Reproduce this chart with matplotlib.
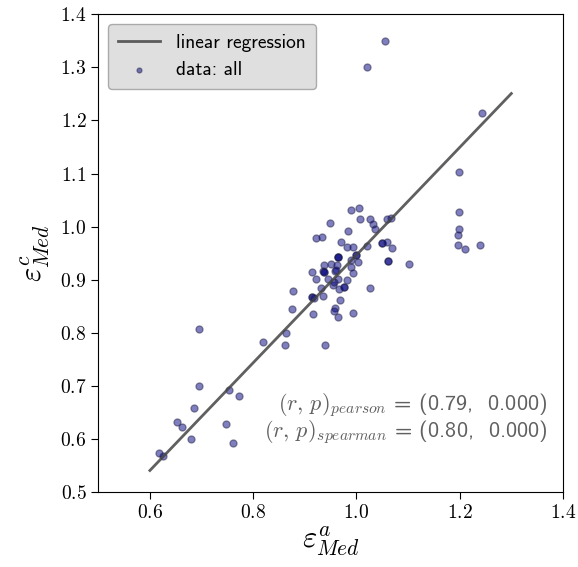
import numpy as np
import matplotlib
matplotlib.use("Agg")
import matplotlib.pyplot as plt
from matplotlib.ticker import FormatStrFormatter

plt.rcParams['mathtext.fontset'] = 'cm'
plt.rcParams['font.family'] = ['cmss10', 'DejaVu Sans']
plt.rcParams['axes.unicode_minus'] = False

# median epsilon, method a (x) vs method c (y)
eps_a = [1.056, 1.020, 1.244, 1.198, 1.198, 1.198, 1.196, 1.196, 1.211, 1.240,
         1.060, 1.066, 1.049, 1.049, 1.059, 1.069, 1.061, 1.061, 1.101,
         0.990, 1.005, 0.949, 1.007, 1.027, 1.032, 1.036, 0.983, 0.922, 0.934,
         0.971, 0.982, 0.993, 1.021, 0.964, 0.964, 0.964, 1.000, 1.000, 0.990,
         1.003, 0.938, 0.951, 0.913, 0.935, 0.938, 0.938, 0.958, 0.990, 0.993,
         0.921, 0.945, 0.964, 0.982, 0.878, 0.932, 0.954, 0.966, 0.975, 0.975,
         1.027, 0.913, 0.913, 0.917, 0.936, 0.969, 0.876, 0.915, 0.958, 0.956,
         0.964, 0.993, 0.940, 0.863, 0.861, 0.963, 0.960, 0.956,
         0.695, 0.819, 0.695, 0.754, 0.772, 0.685, 0.653, 0.663, 0.748, 0.680,
         0.761, 0.617, 0.625]
eps_c = [1.349, 1.300, 1.214, 1.102, 1.027, 0.995, 0.984, 0.965, 0.957, 0.965,
         1.014, 1.016, 0.969, 0.969, 0.971, 0.960, 0.935, 0.935, 0.929,
         1.031, 1.035, 1.007, 1.014, 1.014, 1.004, 0.996, 0.991, 0.979, 0.981,
         0.971, 0.962, 0.961, 0.964, 0.943, 0.943, 0.943, 0.946, 0.946, 0.937,
         0.934, 0.927, 0.930, 0.915, 0.916, 0.914, 0.914, 0.917, 0.924, 0.912,
         0.902, 0.902, 0.902, 0.899, 0.878, 0.885, 0.890, 0.882, 0.886, 0.886,
         0.885, 0.868, 0.868, 0.865, 0.869, 0.862, 0.844, 0.836, 0.847, 0.841,
         0.829, 0.838, 0.777, 0.800, 0.777, 0.927, 0.919, 0.896,
         0.808, 0.782, 0.700, 0.692, 0.681, 0.659, 0.632, 0.622, 0.629, 0.601,
         0.593, 0.573, 0.569]

# regression line as drawn
slope = 1.014
intercept = -0.0676
line_x = [0.6, 1.3]

pearson = (0.79, 0.000)
spearman = (0.80, 0.000)

fig = plt.figure(figsize=(5.78, 5.67), dpi=100)
ax = fig.add_axes([0.170, 0.132, 0.804, 0.843])

lx = np.array(line_x)
ax.plot(lx, slope * lx + intercept, color='#444444', lw=2, alpha=0.85,
        label='linear regression', zorder=3)
ax.scatter(eps_a, eps_c, s=26, c='navy', edgecolors='#222244', linewidths=0.9,
           alpha=0.5, label='data: all', zorder=2)

ax.set_xlim(0.5, 1.4)
ax.set_ylim(0.5, 1.4)
ax.set_xticks([0.6, 0.8, 1.0, 1.2, 1.4])
ax.set_yticks(np.arange(0.5, 1.41, 0.1))
ax.xaxis.set_major_formatter(FormatStrFormatter('$%.1f$'))
ax.yaxis.set_major_formatter(FormatStrFormatter('$%.1f$'))
ax.tick_params(labelsize=14, length=5, direction='out')

ax.set_xlabel(r'$\varepsilon^{a}_{Med}$', fontsize=22, labelpad=2)
ax.set_ylabel(r'$\varepsilon^{c}_{Med}$', fontsize=22, labelpad=6)

ax.text(1.37, 0.664, r'$(r,\,p)_{pearson}$' + ' = (%.2f,  %.3f)' % pearson,
        ha='right', va='center', fontsize=16, color='#606060')
ax.text(1.37, 0.613, r'$(r,\,p)_{spearman}$' + ' = (%.2f,  %.3f)' % spearman,
        ha='right', va='center', fontsize=16, color='#606060')

leg = ax.legend(loc='upper left', fontsize=14, fancybox=True, framealpha=0.8,
                borderpad=0.5, handlelength=2.2, markerscale=0.7)
leg.get_frame().set_facecolor('#d8d8d8')
leg.get_frame().set_edgecolor('#999999')

fig.savefig('out.png', dpi=100)
